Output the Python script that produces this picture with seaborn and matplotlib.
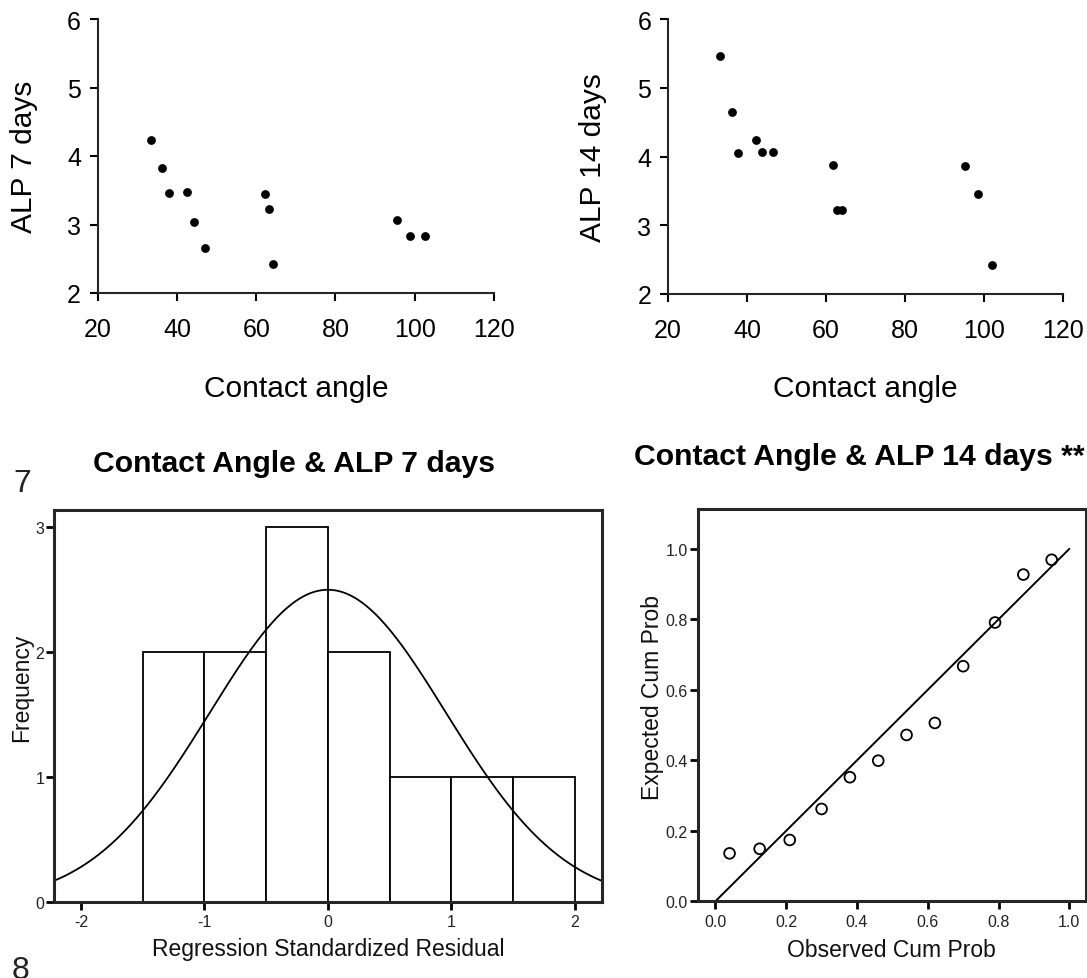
"""Contact angle vs ALP: scatter plots, residual histogram and P-P plot."""
import matplotlib

matplotlib.use("Agg")
import matplotlib.pyplot as plt
import numpy as np
import pandas as pd
import seaborn as sns

# Top row: contact angle vs ALP activity
ANGLE_7 = [33.4, 36.3, 38.1, 42.5, 44.2, 47.2, 62.1, 63.2, 64.3, 95.6, 98.9, 102.5]
ALP_7 = [4.23, 3.83, 3.46, 3.47, 3.04, 2.65, 3.45, 3.23, 2.42, 3.06, 2.83, 2.83]
ANGLE_14 = [33.2, 36.2, 37.8, 42.2, 43.9, 46.7, 61.7, 62.9, 64.0, 95.1, 98.6, 101.9]
ALP_14 = [5.46, 4.65, 4.05, 4.24, 4.06, 4.06, 3.87, 3.22, 3.22, 3.86, 3.46, 2.42]

# Bottom left: histogram of regression standardized residuals (7 days)
BIN_EDGES = [-1.5, -1.0, -0.5, 0.0, 0.5, 1.0, 1.5, 2.0]
BIN_COUNTS = [2, 2, 3, 2, 1, 1, 1]
RESID_MEAN = 0.0
RESID_SD = 0.957

# Bottom right: normal P-P plot (14 days)
OBS_CUM = [0.04, 0.125, 0.21, 0.30, 0.38, 0.46, 0.54, 0.62, 0.70, 0.79, 0.87, 0.95]
EXP_CUM = [0.136, 0.149, 0.174, 0.262, 0.352, 0.399, 0.472, 0.506, 0.667, 0.791, 0.927, 0.969]

W, H = 1087, 979


def px_axes(fig, left, top, right, bottom):
    """Add axes given pixel box (origin top-left)."""
    return fig.add_axes([left / W, (H - bottom) / H, (right - left) / W, (bottom - top) / H])


sns.set_theme(style="ticks")
plt.rcParams["font.family"] = ["Liberation Sans", "DejaVu Sans"]
plt.rcParams["axes.linewidth"] = 1.5
plt.rcParams["axes.unicode_minus"] = False

fig = plt.figure(figsize=(W / 100, H / 100), dpi=100)
fig.patch.set_facecolor("white")


def scatter_panel(ax, x, y, ylabel):
    sns.scatterplot(x=x, y=y, ax=ax, color="black", s=40, edgecolor="black", linewidth=0)
    ax.set_xlim(20, 120)
    ax.set_ylim(2, 6)
    ax.set_xticks([20, 40, 60, 80, 100, 120])
    ax.set_yticks([2, 3, 4, 5, 6])
    ax.tick_params(axis="both", labelsize=18, length=6, width=1.5, colors="black")
    ax.tick_params(axis="x", pad=11)
    ax.tick_params(axis="y", pad=6)
    sns.despine(ax=ax)
    ax.spines["left"].set_linewidth(1.5)
    ax.spines["bottom"].set_linewidth(1.5)
    ax.set_xlabel("Contact angle", fontsize=21.5, color="black")
    ax.set_ylabel(ylabel, fontsize=21.5, color="black")
    ax.xaxis.label.set_verticalalignment("baseline")
    ax.yaxis.label.set_verticalalignment("center")


ax1 = px_axes(fig, 97.7, 20, 494, 294)
scatter_panel(ax1, ANGLE_7, ALP_7, "ALP 7 days")
ax1.xaxis.set_label_coords(0.5, (294 - 397) / 274)
ax1.yaxis.set_label_coords((24 - 97.7) / 396.3, 0.5)

ax2 = px_axes(fig, 668, 20, 1063, 295)
scatter_panel(ax2, ANGLE_14, ALP_14, "ALP 14 days")
ax2.xaxis.set_label_coords(0.5, (295 - 397) / 275)
ax2.yaxis.set_label_coords((593 - 668) / 395, 0.5)

# Histogram with normal curve
ax3 = px_axes(fig, 54, 511, 601.7, 903)
centers = [(a + b) / 2 for a, b in zip(BIN_EDGES[:-1], BIN_EDGES[1:])]
sns.histplot(
    x=centers, weights=BIN_COUNTS, bins=BIN_EDGES, ax=ax3,
    color="white", edgecolor="black", linewidth=1.3, alpha=1,
)
n_obs = sum(BIN_COUNTS)
bw = BIN_EDGES[1] - BIN_EDGES[0]
grid = np.linspace(-2.22, 2.22, 300)
curve = n_obs * bw * np.exp(-0.5 * ((grid - RESID_MEAN) / RESID_SD) ** 2) / (RESID_SD * np.sqrt(2 * np.pi))
sns.lineplot(x=grid, y=curve, ax=ax3, color="black", linewidth=1.3)
ax3.set_xlim(-2.22, 2.22)
ax3.set_ylim(0, 3.14)
ax3.set_xticks([-2, -1, 0, 1, 2])
ax3.set_yticks([0, 1, 2, 3])
ax3.tick_params(axis="both", labelsize=11.5, length=6, width=2, colors="black", labelcolor="#222222")
ax3.tick_params(axis="x", pad=3)
ax3.tick_params(axis="y", pad=1)
for sp in ax3.spines.values():
    sp.set_linewidth(2.2)
ax3.set_xlabel("Regression Standardized Residual", fontsize=16.5, color="#111111")
ax3.set_ylabel("Frequency", fontsize=16.5, color="#111111")
ax3.xaxis.label.set_verticalalignment("baseline")
ax3.yaxis.label.set_verticalalignment("center")
ax3.xaxis.set_label_coords(0.5, (903 - 956) / 392)
ax3.yaxis.set_label_coords((22 - 54) / 547.7, (903 - 688) / 392)

# Normal P-P plot
ax4 = px_axes(fig, 697.7, 510, 1086, 902.3)
sns.lineplot(x=[0, 1], y=[0, 1], ax=ax4, color="black", linewidth=1.4)
sns.scatterplot(
    x=OBS_CUM, y=EXP_CUM, ax=ax4, marker="o", s=60,
    facecolor="none", edgecolor="black", linewidth=1.3,
)
ax4.set_xlim(-0.05, 1.047)
ax4.set_ylim(0, 1.113)
ax4.set_xticks([0, 0.2, 0.4, 0.6, 0.8, 1.0])
ax4.set_yticks([0, 0.2, 0.4, 0.6, 0.8, 1.0])
ax4.xaxis.set_major_formatter(plt.FormatStrFormatter("%.1f"))
ax4.yaxis.set_major_formatter(plt.FormatStrFormatter("%.1f"))
ax4.tick_params(axis="both", labelsize=11.5, length=6, width=2, colors="black", labelcolor="#222222")
ax4.tick_params(axis="x", pad=3)
ax4.tick_params(axis="y", pad=1)
for sp in ax4.spines.values():
    sp.set_linewidth(2.2)
ax4.set_xlabel("Observed Cum Prob", fontsize=16.5, color="#111111")
ax4.set_ylabel("Expected Cum Prob", fontsize=16.5, color="#111111")
ax4.xaxis.label.set_verticalalignment("baseline")
ax4.yaxis.label.set_verticalalignment("center")
ax4.xaxis.set_label_coords(0.5, (902.3 - 957) / 392.3)
ax4.yaxis.set_label_coords((653 - 697.7) / 388.3, (902.3 - 698) / 392.3)

# Titles and figure numbers
fig.text(294 / W, (H - 471.7) / H, "Contact Angle & ALP 7 days",
         ha="center", va="baseline", fontsize=21.7, fontweight="bold", color="black")
fig.text(634 / W, (H - 465) / H, "Contact Angle & ALP 14 days **",
         ha="left", va="baseline", fontsize=21.7, fontweight="bold", color="black")
fig.text(13 / W, (H - 492) / H, "7", ha="left", va="baseline", fontsize=23, color="#222222")
fig.text(12 / W, (H - 979) / H, "8", ha="left", va="baseline", fontsize=23, color="#222222")

fig.savefig("out.png", dpi=100, facecolor="white")
